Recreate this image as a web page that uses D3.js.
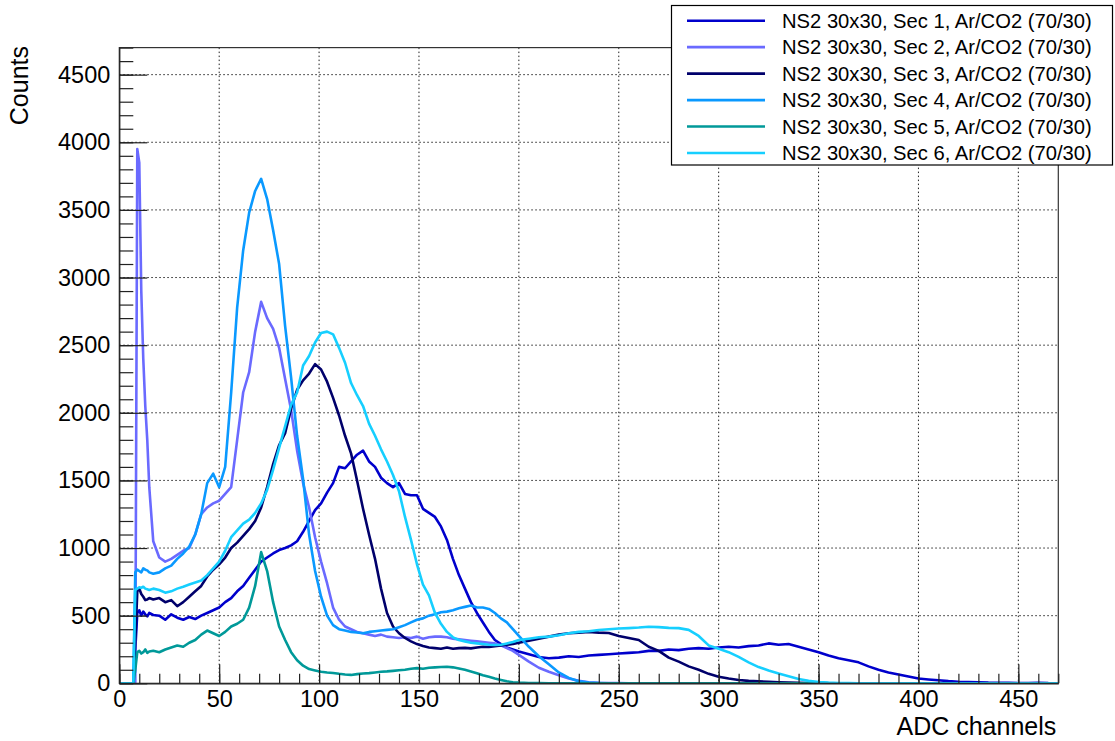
<!DOCTYPE html>
<html>
<head>
<meta charset="utf-8">
<script src="https://cdn.jsdelivr.net/npm/d3@7"></script>
<style>
  html, body { margin: 0; padding: 0; background: #fff; }
  svg { display: block; font-family: "Liberation Sans", Arial, Helvetica, sans-serif; }
</style>
</head>
<body>
<svg id="chart" width="1115" height="741"></svg>
<script>
// ADC channel positions at which the spectra are sampled
const adcChannels = [
  0, 7, 8, 9, 10, 11, 12, 13, 14, 15, 17,
  20, 23, 26, 29, 32, 35, 38, 41, 44, 47,
  50, 53, 56, 59, 62, 65, 68, 71, 74, 77,
  80, 83, 86, 89, 92, 95, 98, 101, 104, 107,
  110, 113, 116, 119, 122, 125, 128, 131, 134, 137,
  140, 143, 146, 149, 152, 155, 158, 161, 164, 167,
  170, 173, 176, 179, 182, 185, 188, 191, 194, 197,
  200,
  205, 210, 215, 220, 225, 230, 235, 240, 245, 250,
  255, 260, 265, 270, 275, 280, 285, 290, 295, 300,
  305, 310, 315, 320, 325, 330, 335, 340, 345, 350,
  355, 360, 365, 370, 375, 380, 385, 390, 395, 400,
  405, 410, 415, 420, 425, 430, 435, 440, 445, 450,
  455, 460, 465, 470
];

// Counts per channel, sector 1
const sec1 = [
  0, 0, 250, 520, 540, 500, 530, 510, 495, 520, 505,
  500, 470, 510, 485, 470, 490, 475, 500, 520, 540,
  560, 600, 630, 680, 720, 780, 840, 900, 930, 960,
  985, 1000, 1020, 1050, 1120, 1200, 1280, 1330, 1410, 1480,
  1600, 1590, 1640, 1690, 1720, 1640, 1600, 1520, 1480, 1450,
  1480, 1400, 1390, 1390, 1290, 1260, 1230, 1160, 1060, 920,
  800, 700, 600, 520, 450, 380, 320, 290, 265, 250,
  235,
  215, 195, 185, 190, 200, 195, 205, 210, 215, 220,
  225, 230, 240, 240, 250, 245, 255, 260, 255, 265,
  270, 265, 275, 280, 295, 285, 290, 270, 250, 230,
  205, 185, 170, 155, 125, 100, 80, 65, 50, 35,
  28, 22, 16, 12, 10, 8, 5, 4, 3, 2,
  2, 4, 1, 0
];

// Counts per channel, sector 2
const sec2 = [
  0, 0, 0, 3950, 3850, 2900, 2400, 2050, 1800, 1450, 1050,
  930, 900, 920, 950, 980, 1000, 1100, 1250, 1300, 1330,
  1350, 1400, 1450, 1800, 2150, 2300, 2600, 2820, 2700, 2620,
  2480, 2250, 2020, 1720, 1480, 1300, 1080, 900, 740, 560,
  470, 420, 400, 380, 370, 360, 350, 360, 345, 340,
  335, 340, 335, 345, 330, 340, 345, 345, 340, 330,
  325, 320, 315, 310, 305, 300, 295, 280, 260, 240,
  210,
  160, 115, 85, 60, 35, 18, 8, 4, 2, 1,
  0, 0, 0, 0, 0, 0, 0, 0, 0, 0,
  0, 0, 0, 0, 0, 0, 0, 0, 0, 0,
  0, 0, 0, 0, 0, 0, 0, 0, 0, 0,
  0, 0, 0, 0, 0, 0, 0, 0, 0, 0,
  0, 0, 0, 0
];

// Counts per channel, sector 3
const sec3 = [
  0, 0, 300, 680, 700, 660, 640, 615, 620, 630, 620,
  630, 600, 615, 570, 600, 640, 680, 720, 790, 840,
  880, 930, 1000, 1040, 1090, 1140, 1200, 1300, 1450, 1620,
  1760, 1850, 2030, 2170, 2240, 2290, 2360, 2320, 2230, 2110,
  1980, 1830, 1700, 1500, 1290, 1100, 920, 700, 520, 420,
  370, 335, 310, 290, 275, 265, 260, 255, 265, 255,
  260, 262, 258, 265, 270, 268, 275, 280, 285, 290,
  300,
  315, 330, 345, 360, 370, 375, 380, 375, 372, 350,
  335, 320, 270, 240, 190, 160, 125, 100, 70, 48,
  35, 24, 18, 14, 11, 8, 5, 3, 2, 1,
  0, 0, 0, 0, 0, 0, 0, 0, 0, 0,
  0, 0, 0, 0, 0, 0, 0, 0, 0, 0,
  0, 0, 0, 0
];

// Counts per channel, sector 4
const sec4 = [
  0, 0, 820, 840, 830, 820, 850, 840, 835, 820, 810,
  820, 850, 870, 920, 960, 1010, 1100, 1250, 1480, 1550,
  1450, 1600, 2150, 2780, 3200, 3480, 3640, 3730, 3580, 3350,
  3100, 2640, 2260, 1830, 1510, 1100, 830, 640, 500, 430,
  400, 390, 380, 375, 370, 380, 385, 390, 395, 400,
  415, 430, 450, 470, 480, 500, 510, 525, 530, 540,
  555, 565, 575, 560, 560, 550, 520, 480, 450, 400,
  350,
  270, 200, 140, 80, 40, 15, 5, 2, 0, 0,
  0, 0, 0, 0, 0, 0, 0, 0, 0, 0,
  0, 0, 0, 0, 0, 0, 0, 0, 0, 0,
  0, 0, 0, 0, 0, 0, 0, 0, 0, 0,
  0, 0, 0, 0, 0, 0, 0, 0, 0, 0,
  0, 0, 0, 0
];

// Counts per channel, sector 5
const sec5 = [
  0, 0, 100, 230, 240, 220, 230, 250, 225, 235, 240,
  230, 250, 265, 280, 270, 300, 320, 360, 390, 370,
  350, 380, 420, 440, 470, 560, 720, 970, 830, 600,
  420, 320, 230, 170, 130, 105, 95, 85, 80, 76,
  70, 65, 62, 68, 72, 75, 80, 85, 88, 92,
  96, 100, 108, 112, 108, 115, 118, 120, 122, 118,
  110, 100, 88, 75, 60, 48, 35, 25, 15, 8,
  5,
  2, 1, 0, 0, 0, 0, 0, 0, 0, 0,
  0, 0, 0, 0, 0, 0, 0, 0, 0, 0,
  0, 0, 0, 0, 0, 0, 0, 0, 0, 0,
  0, 0, 0, 0, 0, 0, 0, 0, 0, 0,
  0, 0, 0, 0, 0, 0, 0, 0, 0, 0,
  0, 0, 0, 0
];

// Counts per channel, sector 6
const sec6 = [
  0, 0, 690, 700, 710, 705, 714, 700, 695, 690, 700,
  690, 670, 680, 700, 714, 730, 745, 760, 800, 850,
  900, 980, 1080, 1130, 1180, 1210, 1260, 1330, 1430, 1580,
  1740, 1900, 2060, 2150, 2350, 2420, 2520, 2590, 2600, 2580,
  2480, 2370, 2220, 2130, 2050, 1920, 1830, 1730, 1640, 1540,
  1420, 1230, 1060, 880, 730, 650, 520, 440, 380, 340,
  320, 310, 300, 295, 290, 285, 283, 285, 295, 305,
  320,
  330, 340, 345, 355, 370, 380, 385, 394, 400, 405,
  408, 412, 418, 415, 410, 408, 395, 350, 280, 255,
  230, 195, 155, 120, 95, 72, 52, 32, 18, 10,
  5, 2, 1, 0, 0, 0, 0, 0, 0, 0,
  0, 0, 0, 0, 0, 0, 0, 0, 0, 0,
  0, 0, 0, 0
];

const seriesLabels = [
  "NS2 30x30, Sec 1, Ar/CO2 (70/30)",
  "NS2 30x30, Sec 2, Ar/CO2 (70/30)",
  "NS2 30x30, Sec 3, Ar/CO2 (70/30)",
  "NS2 30x30, Sec 4, Ar/CO2 (70/30)",
  "NS2 30x30, Sec 5, Ar/CO2 (70/30)",
  "NS2 30x30, Sec 6, Ar/CO2 (70/30)"
];
const seriesColors = ["#0000cc", "#6a6aff", "#00006b", "#0a99ff", "#009999", "#16cfff"];
const seriesValues = [sec1, sec2, sec3, sec4, sec5, sec6];

const xTickValues = [0, 50, 100, 150, 200, 250, 300, 350, 400, 450];
const yTickValues = [0, 500, 1000, 1500, 2000, 2500, 3000, 3500, 4000, 4500];
const xTitle = "ADC channels";
const yTitle = "Counts";

// ---- layout ----
const frame = { left: 119.3, right: 1058.3, top: 47.6, bottom: 683.3 };
const x = d3.scaleLinear().domain([0, 470]).range([frame.left, frame.right]);
const y = d3.scaleLinear().domain([0, 4700]).range([frame.bottom, frame.top]);

const svg = d3.select("#chart");

svg.append("defs").append("clipPath").attr("id", "plotClip")
  .append("rect")
  .attr("x", frame.left).attr("y", frame.top)
  .attr("width", frame.right - frame.left).attr("height", frame.bottom - frame.top);

// dotted grid at major ticks
const grid = svg.append("g").attr("stroke", "#222").attr("stroke-width", 1)
  .attr("stroke-dasharray", "1.5,2.5");
grid.selectAll("line.gx").data(xTickValues.filter(d => d > 0)).join("line")
  .attr("class", "gx")
  .attr("x1", d => x(d)).attr("x2", d => x(d))
  .attr("y1", frame.top).attr("y2", frame.bottom);
grid.selectAll("line.gy").data(yTickValues.filter(d => d > 0)).join("line")
  .attr("class", "gy")
  .attr("x1", frame.left).attr("x2", frame.right)
  .attr("y1", d => y(d)).attr("y2", d => y(d));

// spectra
const line = d3.line()
  .x((d, i) => x(adcChannels[i]))
  .y(d => y(d))
  .curve(d3.curveLinear);

const plot = svg.append("g").attr("clip-path", "url(#plotClip)");
seriesValues.forEach((vals, k) => {
  plot.append("path")
    .datum(vals)
    .attr("fill", "none")
    .attr("stroke", seriesColors[k])
    .attr("stroke-width", 2.6)
    .attr("stroke-linejoin", "round")
    .attr("d", line);
});

// frame
svg.append("rect")
  .attr("x", frame.left).attr("y", frame.top)
  .attr("width", frame.right - frame.left).attr("height", frame.bottom - frame.top)
  .attr("fill", "none").attr("stroke", "#333").attr("stroke-width", 1.2);

// x axis: minor then major ticks pointing inward
const xMinor = x.ticks(47);
const gxMinor = svg.append("g").attr("transform", `translate(0,${frame.bottom})`)
  .call(d3.axisBottom(x).tickValues(xMinor).tickSize(-9.5).tickSizeOuter(0).tickFormat(""));
gxMinor.select(".domain").remove();
const gx = svg.append("g").attr("transform", `translate(0,${frame.bottom})`)
  .call(d3.axisBottom(x).tickValues(xTickValues).tickSize(-19).tickSizeOuter(0)
    .tickPadding(7).tickFormat(d3.format("d")));

// y axis
const yMinor = y.ticks(47);
const gyMinor = svg.append("g").attr("transform", `translate(${frame.left},0)`)
  .call(d3.axisLeft(y).tickValues(yMinor).tickSize(-14).tickSizeOuter(0).tickFormat(""));
gyMinor.select(".domain").remove();
const gy = svg.append("g").attr("transform", `translate(${frame.left},0)`)
  .call(d3.axisLeft(y).tickValues(yTickValues).tickSize(-28).tickSizeOuter(0)
    .tickPadding(9).tickFormat(d3.format("d")));

[gxMinor, gx, gyMinor, gy].forEach(g => {
  g.selectAll(".tick line").attr("stroke", "#222").attr("stroke-width", 1.2);
  g.selectAll(".domain").attr("stroke", "#222").attr("stroke-width", 1.2);
});
[gx, gy].forEach(g => {
  g.selectAll(".tick text")
    .attr("fill", "#000")
    .style("font-family", '"Liberation Sans", Arial, sans-serif')
    .style("font-size", "23.5px");
});

// axis titles
svg.append("text")
  .attr("x", frame.right - 2).attr("y", 735)
  .attr("text-anchor", "end")
  .style("font-size", "25px")
  .text(xTitle);
svg.append("text")
  .attr("transform", `translate(28,46) rotate(-90)`)
  .attr("text-anchor", "end")
  .style("font-size", "25px")
  .text(yTitle);

// legend
const legend = svg.append("g");
legend.append("rect")
  .attr("x", 671.5).attr("y", 5.5).attr("width", 441).attr("height", 159.5)
  .attr("fill", "#fff").attr("stroke", "#000").attr("stroke-width", 1.2);
const rowY = d3.scalePoint().domain(d3.range(seriesLabels.length)).range([20.7, 153]);
seriesLabels.forEach((lab, k) => {
  const yy = rowY(k);
  legend.append("line")
    .attr("x1", 687).attr("x2", 765).attr("y1", yy).attr("y2", yy)
    .attr("stroke", seriesColors[k]).attr("stroke-width", 2.6);
  legend.append("text")
    .attr("x", 782).attr("y", yy + 7)
    .style("font-size", "20.2px")
    .attr("fill", "#000")
    .text(lab);
});
</script>
</body>
</html>
